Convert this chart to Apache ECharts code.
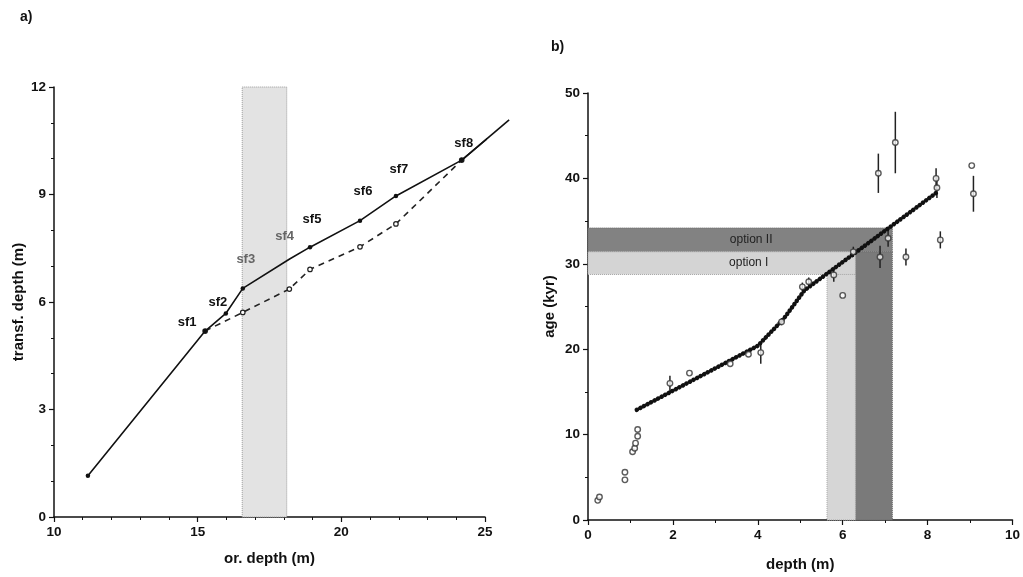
<!DOCTYPE html>
<html>
<head>
<meta charset="utf-8">
<script src="https://cdn.jsdelivr.net/npm/echarts@6/dist/echarts.min.js"></script>
<style>
  html, body { margin: 0; padding: 0; background: #fff; }
  #chart { width: 1023px; height: 577px; }
</style>
</head>
<body>
<div id="chart"></div>
<script>
// ---- panel a: transformed vs original depth ----
const solidX = [11.18, 15.26, 15.98, 16.57, 18.2, 18.91, 20.65, 21.9, 24.19, 25.84];
const solidY = [1.15, 5.19, 5.68, 6.38, 7.2, 7.53, 8.27, 8.96, 9.96, 11.08];
const solidNames = ['', 'sf1', 'sf2', 'sf3', 'sf4', 'sf5', 'sf6', 'sf7', 'sf8', ''];
const dashX = [15.26, 16.57, 18.19, 18.91, 20.65, 21.9, 24.19];
const dashY = [5.19, 5.71, 6.36, 6.91, 7.54, 8.18, 9.96];
const bandA = [16.55, 18.1];

// ---- panel b: age model ----
const modelX = [1.15, 4.0, 4.6, 5.1, 8.2];
const modelY = [12.9, 20.4, 23.5, 26.9, 38.3];
const ageX = [0.23, 0.27, 0.87, 0.87, 1.05, 1.1, 1.12, 1.17, 1.17, 1.93, 2.39, 3.35, 3.78, 4.07,
              4.56, 5.05, 5.2, 5.79, 6.0, 6.25, 6.88, 7.07, 6.84, 7.24, 7.49, 8.2, 8.22, 8.3, 9.04, 9.08];
const ageY = [2.3, 2.7, 4.7, 5.6, 8.0, 8.4, 9.0, 9.8, 10.6, 16.0, 17.2, 18.3, 19.4, 19.6,
              23.2, 27.3, 27.9, 28.7, 26.3, 31.4, 30.8, 33.0, 40.6, 44.2, 30.8, 40.0, 38.9, 32.8, 41.5, 38.2];
const ageErr = [0, 0, 0, 0, 0, 0, 0, 0, 0, 0.9, 0, 0, 0, 1.3,
                0.4, 0.5, 0.5, 0.8, 0, 0.6, 1.3, 1.0, 2.3, 3.6, 1.0, 1.2, 1.2, 1.0, 0, 2.1];
const optI = { xEnd: 6.3, xStart: 5.63, yLow: 28.75, yHigh: 31.4 };
const optII = { xEnd: 7.17, yHigh: 34.2 };

// label nudges for sf names (pixels)
const labelOffsets = [[0,0],[-18,-9],[-8,-11],[3,-29],[-5,-23],[2,-28],[3,-29],[3,-27],[2,-17],[0,0]];
const labelColors = ['#000','#111','#111','#666','#666','#111','#111','#111','#111','#000'];

const tickFont = { fontFamily: 'Liberation Sans', fontWeight: 'bold', fontSize: 13.5, color: '#111' };
const nameFont = { fontFamily: 'Liberation Sans', fontWeight: 'bold', fontSize: 15, color: '#111' };
const axisLine = { show: true, onZero: false, lineStyle: { color: '#111', width: 1.5 } };

const chart = echarts.init(document.getElementById('chart'));

const solidData = solidX.map((x, i) => ({
  value: [x, solidY[i]],
  symbolSize: (i === 4 || i === 9) ? 0 : 4.5,
  label: {
    show: solidNames[i] !== '',
    formatter: solidNames[i],
    position: 'inside',
    offset: labelOffsets[i],
    fontFamily: 'Liberation Sans', fontWeight: 'bold', fontSize: 13,
    color: labelColors[i]
  }
}));

chart.setOption({
  animation: false,
  backgroundColor: '#fff',
  graphic: [
    { type: 'text', left: 20, top: 10, style: { text: 'a)', font: 'bold 14px Liberation Sans', fill: '#111' } },
    { type: 'text', left: 551, top: 40, style: { text: 'b)', font: 'bold 14px Liberation Sans', fill: '#111' } }
  ],
  grid: [
    { left: 54, right: 538, top: 87, bottom: 60 },
    { left: 588, right: 8, top: 93, bottom: 56 }
  ],
  xAxis: [
    {
      gridIndex: 0, type: 'value', min: 10, max: 25, interval: 5,
      name: 'or. depth (m)', nameLocation: 'middle', nameGap: 34, nameTextStyle: nameFont,
      axisLine: axisLine, splitLine: { show: false },
      axisTick: { show: true, length: 5, lineStyle: { color: '#111', width: 1.2 } },
      minorTick: { show: true, splitNumber: 5, length: 3, lineStyle: { color: '#111' } },
      axisLabel: Object.assign({ margin: 8 }, tickFont)
    },
    {
      gridIndex: 1, type: 'value', min: 0, max: 10, interval: 2,
      name: 'depth (m)', nameLocation: 'middle', nameGap: 37, nameTextStyle: nameFont,
      axisLine: axisLine, splitLine: { show: false },
      axisTick: { show: true, length: 5, lineStyle: { color: '#111', width: 1.2 } },
      minorTick: { show: true, splitNumber: 2, length: 3, lineStyle: { color: '#111' } },
      axisLabel: Object.assign({ margin: 8 }, tickFont)
    }
  ],
  yAxis: [
    {
      gridIndex: 0, type: 'value', min: 0, max: 12, interval: 3,
      name: 'transf. depth (m)', nameLocation: 'middle', nameGap: 28, nameTextStyle: nameFont,
      axisLine: axisLine, splitLine: { show: false },
      axisTick: { show: true, length: 5, lineStyle: { color: '#111', width: 1.2 } },
      minorTick: { show: true, splitNumber: 3, length: 3, lineStyle: { color: '#111' } },
      axisLabel: Object.assign({ margin: 8 }, tickFont)
    },
    {
      gridIndex: 1, type: 'value', min: 0, max: 50, interval: 10,
      name: 'age (kyr)', nameLocation: 'middle', nameGap: 31, nameTextStyle: nameFont,
      axisLine: axisLine, splitLine: { show: false },
      axisTick: { show: true, length: 5, lineStyle: { color: '#111', width: 1.2 } },
      minorTick: { show: true, splitNumber: 2, length: 3, lineStyle: { color: '#111' } },
      axisLabel: Object.assign({ margin: 8 }, tickFont)
    }
  ],
  series: [
    // shaded interval in panel a
    {
      type: 'line', xAxisIndex: 0, yAxisIndex: 0, data: [], z: 1,
      markArea: {
        silent: true,
        itemStyle: { color: '#e3e3e3', borderColor: '#9a9a9a', borderWidth: 1, borderType: 'dotted' },
        data: [[{ xAxis: bandA[0], yAxis: 0 }, { xAxis: bandA[1], yAxis: 12 }]]
      }
    },
    {
      type: 'line', xAxisIndex: 0, yAxisIndex: 0, z: 3,
      data: dashX.map((x, i) => [x, dashY[i]]),
      symbol: 'circle', symbolSize: 4.5,
      itemStyle: { color: '#fff', borderColor: '#222', borderWidth: 1.2 },
      lineStyle: { color: '#222', width: 1.6, type: [6, 5] }
    },
    {
      type: 'line', xAxisIndex: 0, yAxisIndex: 0, z: 4,
      data: solidData,
      symbol: 'circle',
      itemStyle: { color: '#111' },
      lineStyle: { color: '#111', width: 1.6 }
    },
    // the solid curve runs on past the end of the axis
    {
      type: 'custom', xAxisIndex: 0, yAxisIndex: 0, z: 4, clip: false,
      data: solidX.slice(0, -1).map((x, i) => [x, solidY[i], solidX[i + 1], solidY[i + 1]]),
      renderItem: function (params, api) {
        if (api.value(2) <= 25) return null;
        const a = api.coord([api.value(0), api.value(1)]);
        const b = api.coord([api.value(2), api.value(3)]);
        return {
          type: 'line',
          shape: { x1: a[0], y1: a[1], x2: b[0], y2: b[1] },
          style: { stroke: '#111', lineWidth: 1.6 }
        };
      }
    },
    // option I / II shading in panel b
    {
      type: 'line', xAxisIndex: 1, yAxisIndex: 1, data: [], z: 1,
      markArea: {
        silent: true,
        label: { show: false },
        data: [
          [{ xAxis: 0, yAxis: optI.yHigh, itemStyle: { color: '#828282', borderColor: '#6a6a6a', borderType: 'dotted', borderWidth: 1 },
             label: { show: true, position: 'inside', formatter: 'option II', offset: [11, 0], fontFamily: 'Liberation Sans', fontSize: 12, color: '#222' } },
           { xAxis: optII.xEnd, yAxis: optII.yHigh }],
          [{ xAxis: optI.xEnd, yAxis: 0, itemStyle: { color: '#7a7a7a', borderColor: '#6a6a6a', borderType: 'dotted', borderWidth: 1 } },
           { xAxis: optII.xEnd, yAxis: optI.yHigh }],
          [{ xAxis: 0, yAxis: optI.yLow, itemStyle: { color: '#d4d4d4', borderColor: '#a8a8a8', borderType: 'dotted', borderWidth: 1 },
             label: { show: true, position: 'inside', formatter: 'option I', offset: [27, 0], fontFamily: 'Liberation Sans', fontSize: 12, color: '#222' } },
           { xAxis: optI.xEnd, yAxis: optI.yHigh }],
          [{ xAxis: optI.xStart, yAxis: 0, itemStyle: { color: '#d6d6d6', borderColor: '#a8a8a8', borderType: 'dotted', borderWidth: 1 } },
           { xAxis: optI.xEnd, yAxis: optI.yLow }]
        ]
      }
    },
    // error bars
    {
      type: 'custom', xAxisIndex: 1, yAxisIndex: 1, z: 3,
      data: ageX.map((x, i) => [x, ageY[i], ageErr[i]]),
      renderItem: function (params, api) {
        const e = api.value(2);
        if (!e) return null;
        const p1 = api.coord([api.value(0), api.value(1) - e]);
        const p2 = api.coord([api.value(0), api.value(1) + e]);
        return {
          type: 'line',
          shape: { x1: p1[0], y1: p1[1], x2: p2[0], y2: p2[1] },
          style: { stroke: '#222', lineWidth: 1.5 }
        };
      }
    },
    // age model (dotted chain)
    {
      type: 'line', xAxisIndex: 1, yAxisIndex: 1, z: 4,
      data: modelX.map((x, i) => [x, modelY[i]]),
      symbol: 'none',
      lineStyle: { color: '#111', width: 4.5, type: [0.01, 4], cap: 'round' }
    },
    // dated samples
    {
      type: 'scatter', xAxisIndex: 1, yAxisIndex: 1, z: 5,
      data: ageX.map((x, i) => [x, ageY[i]]),
      symbol: 'circle', symbolSize: 5.5,
      itemStyle: { color: '#fff', borderColor: '#333', borderWidth: 1.4 }
    }
  ]
});
</script>
</body>
</html>
